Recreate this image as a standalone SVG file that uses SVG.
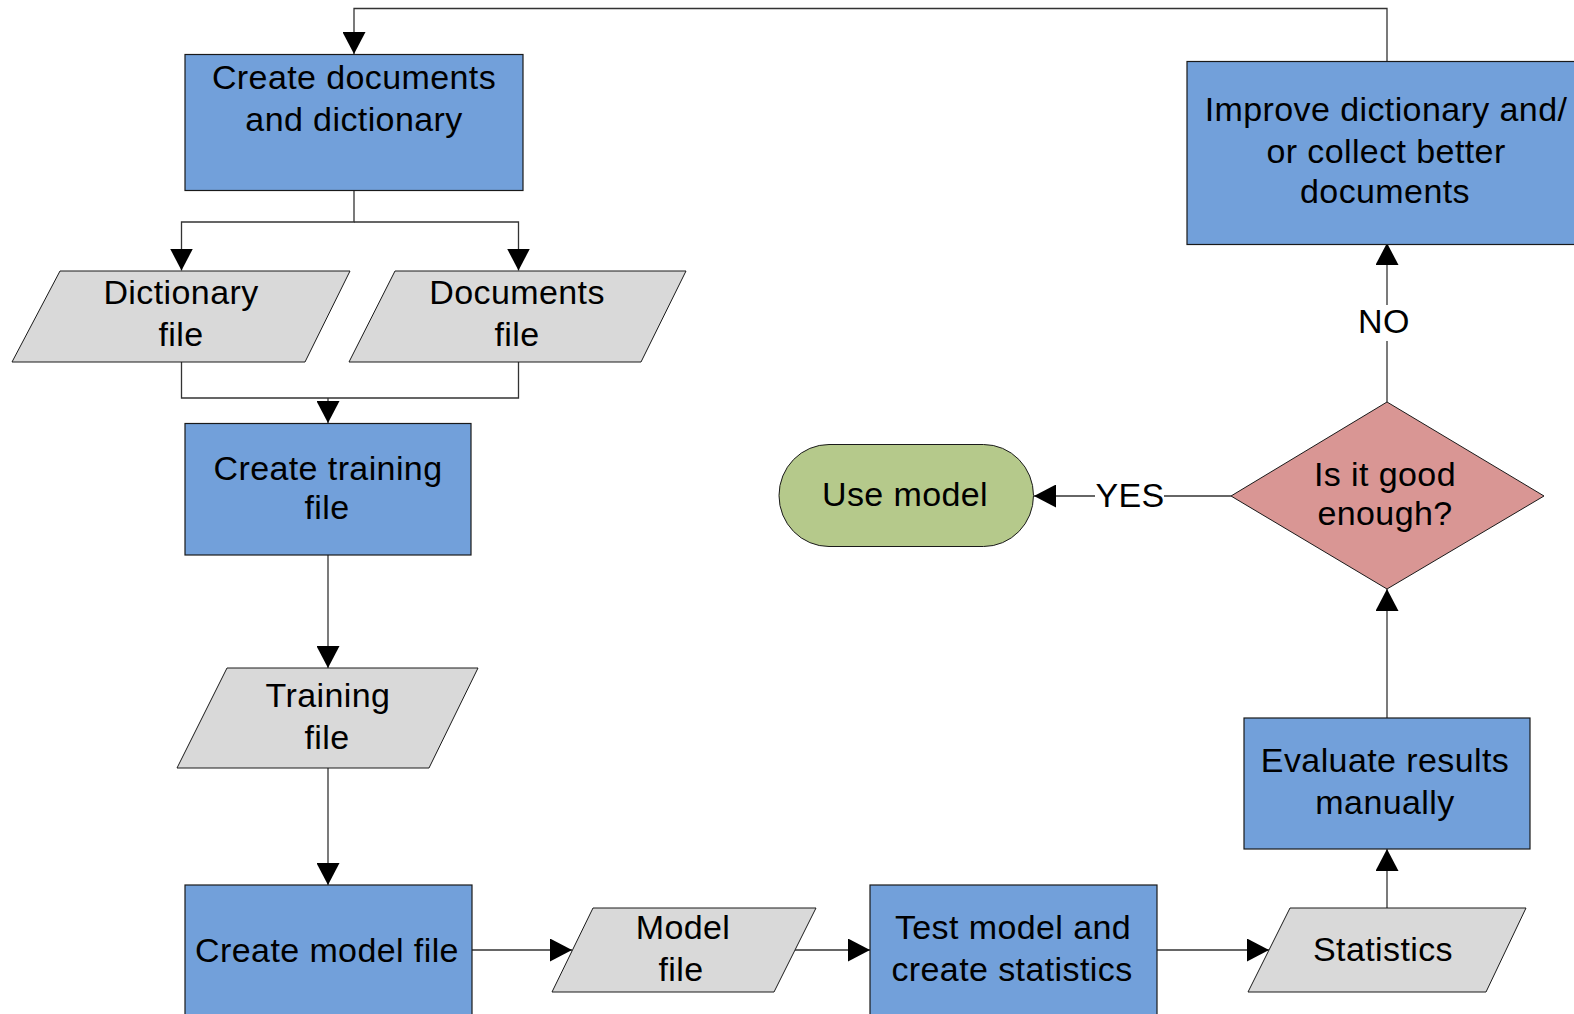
<svg xmlns="http://www.w3.org/2000/svg" width="1574" height="1014" viewBox="0 0 1574 1014">
  <defs>
    <marker id="arrow" markerUnits="userSpaceOnUse" markerWidth="23" markerHeight="23" refX="22" refY="11.5" orient="auto">
      <path d="M0,0 L22,11.5 L0,23 z" fill="#000"/>
    </marker>
    <style>
      .process { fill: #72a0da; stroke: #1a1a1a; stroke-width: 1.2; }
      .data { fill: #d9d9d9; stroke: #1a1a1a; stroke-width: 1; }
      .decision { fill: #d99694; stroke: #1a1a1a; stroke-width: 1; }
      .terminal { fill: #b5c98b; stroke: #1a1a1a; stroke-width: 1; }
      .link { fill: none; stroke: #333; stroke-width: 1.3; }
      text { font-family: "Liberation Sans", Arial, sans-serif; font-size: 34px; letter-spacing: 0.4px; fill: #000; text-anchor: middle; }
    </style>
  </defs>
  <rect width="1574" height="1014" fill="#fff"/>

  <!-- connectors -->
  <g id="connectors">
    <path class="link" d="M1387,61 V8.5 H354 V54" marker-end="url(#arrow)"/>
    <path class="link" d="M354,190 V222 H181.5 V270.5" marker-end="url(#arrow)"/>
    <path class="link" d="M354,222 H518.5 V270.5" marker-end="url(#arrow)"/>
    <path class="link" d="M181.5,362 V398 H518.5 V362"/>
    <path class="link" d="M328,398 V423" marker-end="url(#arrow)"/>
    <path class="link" d="M328,555 V668" marker-end="url(#arrow)"/>
    <path class="link" d="M328,768 V885" marker-end="url(#arrow)"/>
    <path class="link" d="M472,950 H572" marker-end="url(#arrow)"/>
    <path class="link" d="M795,950 H870" marker-end="url(#arrow)"/>
    <path class="link" d="M1157,950 H1269" marker-end="url(#arrow)"/>
    <path class="link" d="M1387,908 V849" marker-end="url(#arrow)"/>
    <path class="link" d="M1387,718 V589" marker-end="url(#arrow)"/>
    <path class="link" d="M1231,496 H1164"/>
    <path class="link" d="M1095,496 H1034" marker-end="url(#arrow)"/>
    <text x="1130" y="507">YES</text>
    <path class="link" d="M1387,402 V341"/>
    <path class="link" d="M1387,305 V243" marker-end="url(#arrow)"/>
    <text x="1384" y="333">NO</text>
  </g>

  <g id="create-documents">
    <rect class="process" x="185" y="54.5" width="338" height="136"/>
    <text x="354" y="89">Create documents</text>
    <text x="354" y="131">and dictionary</text>
  </g>

  <g id="dictionary-file">
    <polygon class="data" points="60,271 350,271 305,362 12,362"/>
    <text x="181" y="304">Dictionary</text>
    <text x="181" y="346">file</text>
  </g>

  <g id="documents-file">
    <polygon class="data" points="395,271 686,271 641,362 349,362"/>
    <text x="517" y="304">Documents</text>
    <text x="517" y="346">file</text>
  </g>

  <g id="create-training-file">
    <rect class="process" x="185" y="423.5" width="286" height="131.5"/>
    <text x="328" y="480">Create training</text>
    <text x="327" y="519">file</text>
  </g>

  <g id="training-file">
    <polygon class="data" points="227,668 478,668 429,768 177,768"/>
    <text x="328" y="707">Training</text>
    <text x="327" y="749">file</text>
  </g>

  <g id="create-model-file">
    <rect class="process" x="185" y="885" width="287" height="140"/>
    <text x="327" y="962">Create model file</text>
  </g>

  <g id="model-file">
    <polygon class="data" points="593,908 816,908 774,992 552,992"/>
    <text x="683" y="939">Model</text>
    <text x="681" y="981">file</text>
  </g>

  <g id="test-model">
    <rect class="process" x="870" y="885" width="287" height="140"/>
    <text x="1013" y="939">Test model and</text>
    <text x="1012" y="981">create statistics</text>
  </g>

  <g id="statistics">
    <polygon class="data" points="1290,908 1526,908 1486,992 1248,992"/>
    <text x="1383" y="961">Statistics</text>
  </g>

  <g id="evaluate-results">
    <rect class="process" x="1244" y="718" width="286" height="131"/>
    <text x="1385" y="772">Evaluate results</text>
    <text x="1385" y="814">manually</text>
  </g>

  <g id="good-enough">
    <polygon class="decision" points="1387,402 1544,496 1387,589 1231,496"/>
    <text x="1385" y="486">Is it good</text>
    <text x="1385" y="525">enough?</text>
  </g>

  <g id="use-model">
    <rect class="terminal" x="779" y="444.5" width="254.5" height="102" rx="50" ry="51"/>
    <text x="905" y="506">Use model</text>
  </g>

  <g id="improve">
    <rect class="process" x="1187" y="61.5" width="400" height="183"/>
    <text x="1386" y="121">Improve dictionary and/</text>
    <text x="1386" y="163">or collect better</text>
    <text x="1385" y="203">documents</text>
  </g>
</svg>
